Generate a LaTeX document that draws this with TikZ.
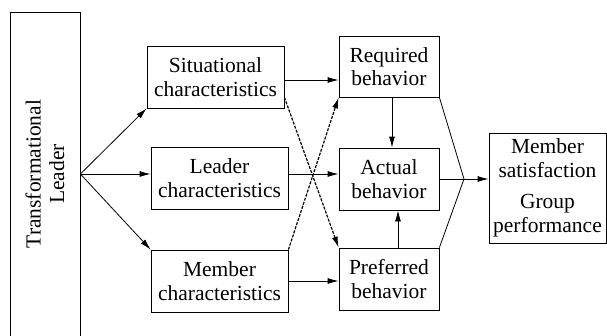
\documentclass[tikz,border=0pt]{standalone}
\usepackage{fontspec}
\setmainfont{Liberation Serif}
\usepackage{tikz}
\usetikzlibrary{arrows.meta}

\begin{document}
\begin{tikzpicture}[x=1pt,y=-1pt,line width=0.8pt,>={Latex[length=11pt,width=6pt]},
  font=\rmfamily\fontsize{21.5}{23.5}\selectfont,
  blk/.style={draw,align=center,inner sep=2pt,minimum width=137pt,minimum height=62pt},
  bhv/.style={draw,align=center,inner sep=2pt,minimum width=100pt,minimum height=62pt},
  dotarrow/.style={->,line width=1.2pt,dash pattern=on 3pt off 1.3pt}]
  \useasboundingbox (0,0) rectangle (607,335);
  \node (tl) [draw,rotate=90,minimum width=324pt,minimum height=70pt,inner sep=2pt,align=center] at (45,174) {Transformational\\Leader};
  \node (sit) [blk] at (215.5,77) {Situational\\characteristics};
  \node (ldr) [blk] at (219.5,178) {Leader\\characteristics};
  \node (mem) [blk] at (219.5,281) {Member\\characteristics};
  \node (req) [bhv,minimum height=61pt] at (389,66.5) {Required\\behavior};
  \node (act) [bhv] at (389,179) {Actual\\behavior};
  \node (pref) [bhv] at (389,279) {Preferred\\behavior};
  \node (out) [draw,align=center,inner sep=2pt,minimum width=117pt,minimum height=110pt] at (547.5,188) {Member\\satisfaction\\[8pt]Group\\performance};
  \coordinate (j) at (464,179);
  % leader to the three sets of characteristics
  \draw[->] (tl.south) -- (sit.south west);
  \draw[->] (tl.south) -- (tl.south -| ldr.west);
  \draw[->] (tl.south) -- (mem.north west);
  % characteristics to behaviour
  \draw[->] ([yshift=-3pt]sit.east) -- ([yshift=-3pt]sit.east -| req.west);
  \draw[->] ([yshift=4pt]ldr.east) -- ([yshift=4pt]ldr.east -| act.west);
  \draw[->] (mem.east) -- (mem.east -| pref.west);
  \draw[dotarrow] ([yshift=11pt]sit.south east) -- (pref.north west);
  \draw[dotarrow] (mem.north east) -- (req.south west);
  \draw[->] ([xshift=3pt]req.south) -- ([xshift=3pt]act.north);
  \draw[->] ([xshift=9pt]pref.north) -- ([xshift=9pt]act.south);
  % behaviour to outcomes
  \draw (req.south east) -- (j) -- (pref.north east);
  \draw (act.east) -- (j);
  \draw[->] (j) -- (j -| out.west);
\end{tikzpicture}
\end{document}
